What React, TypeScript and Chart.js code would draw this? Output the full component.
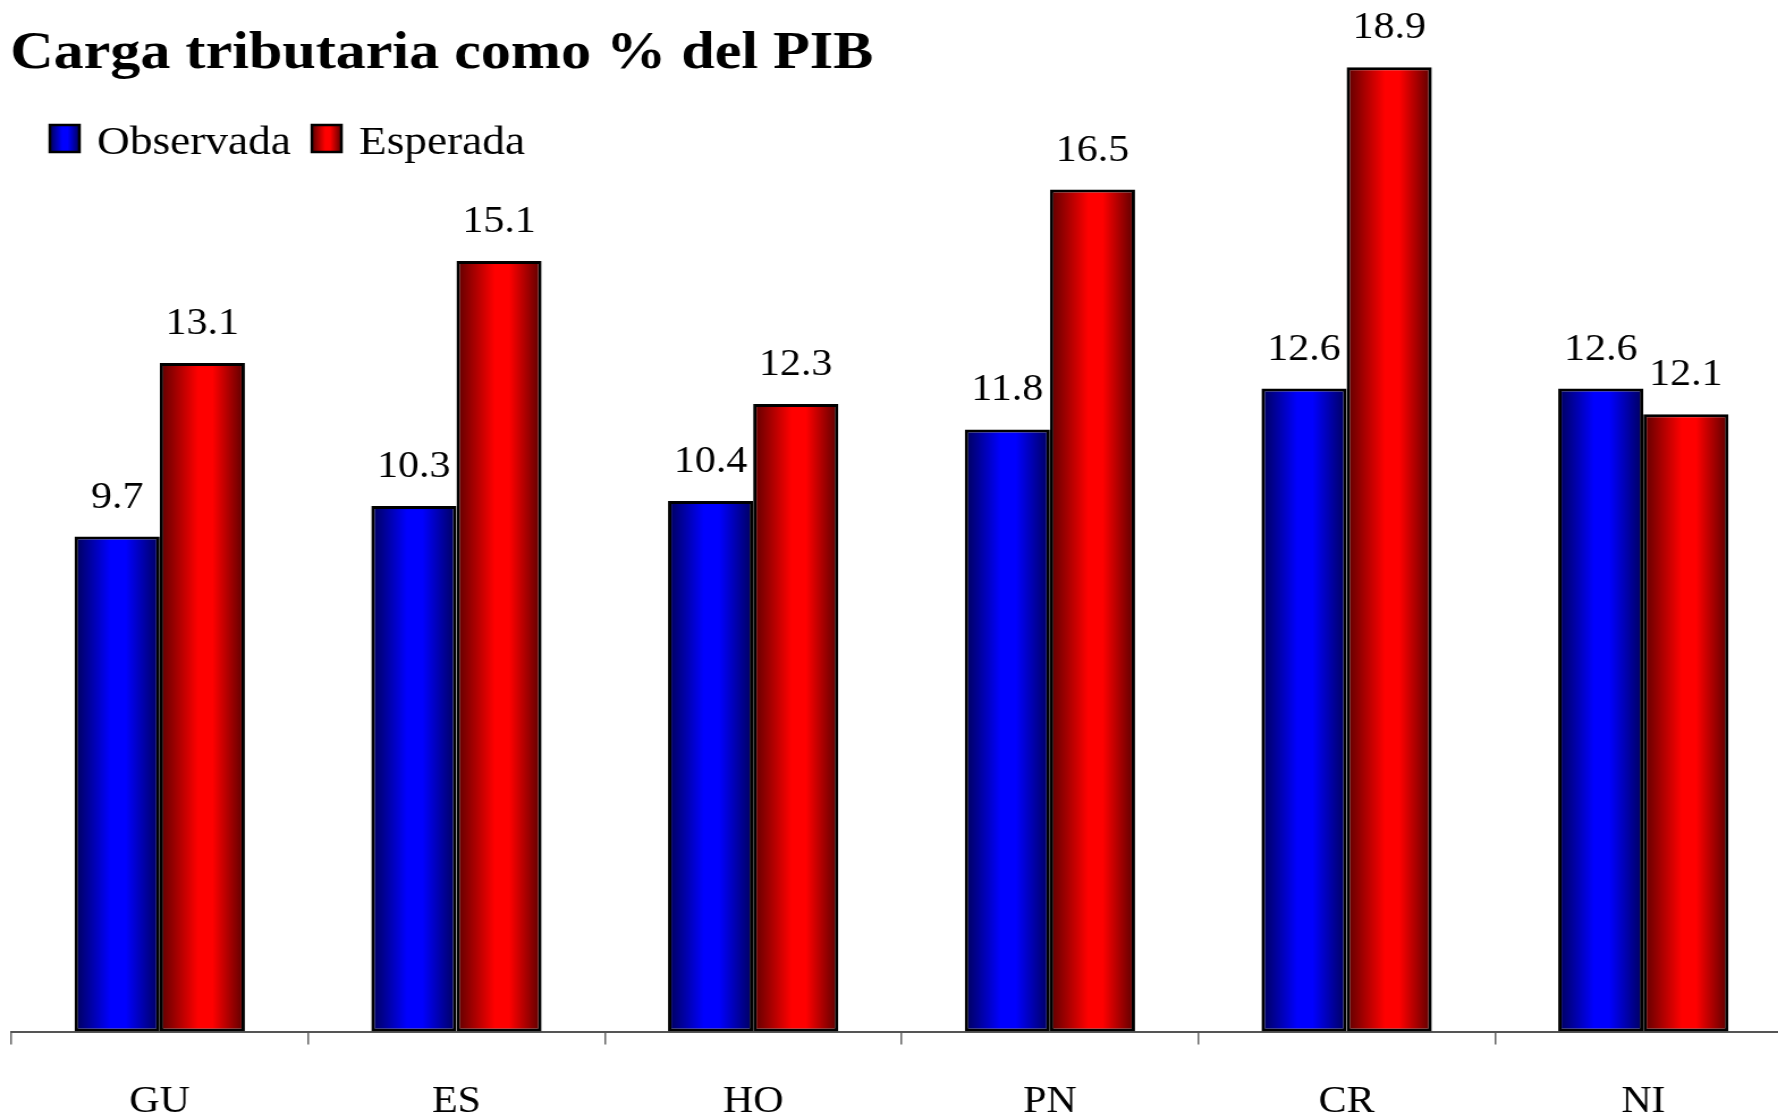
import React, { useEffect, useRef } from "react";
import { Chart, registerables } from "chart.js";

Chart.register(...registerables);

const titleText = "Carga tributaria como % del PIB";
const categories = ["GU", "ES", "HO", "PN", "CR", "NI"];
const seriesNames = ["Observada", "Esperada"];
const observada = [9.7, 10.3, 10.4, 11.8, 12.6, 12.6];
const esperada = [13.1, 15.1, 12.3, 16.5, 18.9, 12.1];

const SERIF = "'Liberation Serif', 'Times New Roman', serif";
const CAT_PCT = 0.574;
const STRETCH = 1.134;
const CANVAS_W = 1590;
const CANVAS_H = 1159;

const blueStops: [number, string][] = [
  [0, "#000058"],
  [0.42, "#0000ff"],
  [0.6, "#0000ff"],
  [1, "#00005a"],
];
const redStops: [number, string][] = [
  [0, "#5c0000"],
  [0.45, "#ff0000"],
  [0.62, "#ff0000"],
  [1, "#580000"],
];

function makeGradient(ctx: CanvasRenderingContext2D, x0: number, x1: number, stops: [number, string][]) {
  const g = ctx.createLinearGradient(x0, 0, x1, 0);
  stops.forEach(([o, c]) => g.addColorStop(o, c));
  return g;
}

function barFill(stops: [number, string][], solid: string, dsIndex: number) {
  return (c: any) => {
    const chart = c.chart;
    const area = chart.chartArea;
    const xs = chart.scales && chart.scales.x;
    if (!area || !xs || c.dataIndex === undefined) return solid;
    const center = xs.getPixelForValue(c.dataIndex);
    const catW = (area.right - area.left) / categories.length;
    const barW = (catW * CAT_PCT) / 2;
    const left = dsIndex === 0 ? center - barW : center;
    return makeGradient(chart.ctx, left, left + barW, stops);
  };
}

const overlayPlugin = {
  id: "overlayTexts",
  afterDraw(chart: any) {
    const ctx: CanvasRenderingContext2D = chart.ctx;
    ctx.save();
    // Title
    ctx.fillStyle = "#000";
    ctx.textAlign = "left";
    ctx.textBaseline = "alphabetic";
    ctx.font = `bold 53px ${SERIF}`;
    ctx.fillText(titleText, 9, 68);

    // Legend
    ctx.font = `40px ${SERIF}`;
    let x = 44;
    const stopsList = [blueStops, redStops];
    chart.data.datasets.forEach((ds: any, i: number) => {
      const w = 26;
      const h = 27;
      const y = 125;
      ctx.fillStyle = makeGradient(ctx, x, x + w, stopsList[i]);
      ctx.fillRect(x, y, w, h);
      ctx.lineWidth = 2.5;
      ctx.strokeStyle = "#000";
      ctx.strokeRect(x, y, w, h);
      const tx = x + w + 15.5;
      ctx.fillStyle = "#000";
      ctx.fillText(ds.label, tx, 154);
      x = tx + ctx.measureText(ds.label).width + 18.5;
    });

    // Data labels
    ctx.font = `37px ${SERIF}`;
    ctx.textAlign = "center";
    ctx.fillStyle = "#000";
    chart.data.datasets.forEach((ds: any, i: number) => {
      const meta = chart.getDatasetMeta(i);
      meta.data.forEach((el: any, j: number) => {
        const v = ds.data[j];
        ctx.fillText(Number(v).toFixed(1), el.x, el.y - 29);
      });
    });
    ctx.restore();
  },
};

export default function App() {
  const canvasRef = useRef<HTMLCanvasElement | null>(null);

  useEffect(() => {
    if (!canvasRef.current) return;
    const chart = new Chart(canvasRef.current, {
      type: "bar",
      data: {
        labels: categories,
        datasets: [
          {
            label: seriesNames[0],
            data: observada,
            backgroundColor: barFill(blueStops, "#0000ff", 0),
            borderColor: "#000",
            borderWidth: 3,
            borderSkipped: false,
            categoryPercentage: CAT_PCT,
            barPercentage: 1,
          },
          {
            label: seriesNames[1],
            data: esperada,
            backgroundColor: barFill(redStops, "#ff0000", 1),
            borderColor: "#000",
            borderWidth: 3,
            borderSkipped: false,
            categoryPercentage: CAT_PCT,
            barPercentage: 1,
          },
        ],
      },
      options: {
        responsive: false,
        animation: false,
        devicePixelRatio: 1,
        layout: { padding: { left: 10, right: 10, top: 11, bottom: 0 } },
        plugins: {
          legend: { display: false },
          title: { display: false },
          tooltip: { enabled: false },
        },
        scales: {
          x: {
            type: "category",
            offset: true,
            grid: {
              display: true,
              drawOnChartArea: false,
              drawTicks: true,
              tickLength: 13,
              color: "#666",
              lineWidth: 1.5,
              offset: true,
            },
            border: { display: true, color: "#555", width: 2 },
            ticks: {
              color: "#000",
              padding: 35,
              font: { family: SERIF, size: 37 },
            },
          },
          y: {
            display: false,
            min: 0,
            max: 20,
          },
        },
      },
      plugins: [overlayPlugin],
    });
    return () => chart.destroy();
  }, []);

  return (
    <div
      style={{
        position: "fixed",
        left: 0,
        top: 0,
        width: 1778,
        height: 1117,
        overflow: "hidden",
        background: "#fff",
      }}
    >
      <div
        style={{
          width: CANVAS_W,
          height: CANVAS_H,
          transform: `scaleX(${STRETCH})`,
          transformOrigin: "0 0",
        }}
      >
        <canvas ref={canvasRef} width={CANVAS_W} height={CANVAS_H} style={{ display: "block" }} />
      </div>
    </div>
  );
}
